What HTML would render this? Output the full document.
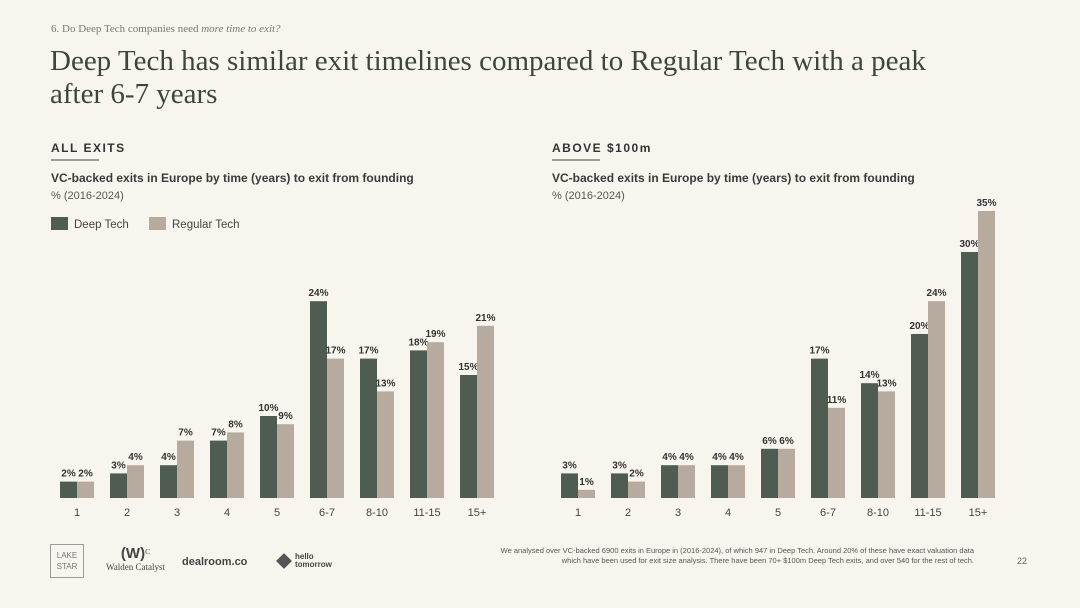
<!DOCTYPE html>
<html><head><meta charset="utf-8">
<style>
body{margin:0;background:#f8f5ef;font-family:"Liberation Sans",sans-serif;}
#wrap{position:relative;width:1080px;height:608px;overflow:hidden;background:#f8f5ef;}
.t{position:absolute;white-space:nowrap;}
</style></head><body>
<div id="wrap">
<div class="t" style="left:51px;top:23px;font:11px 'Liberation Serif',serif;color:#777;">6. Do Deep Tech companies need <i>more time to exit?</i></div>
<div class="t" style="left:50px;top:45px;font:29px/33px 'Liberation Serif',serif;color:#3b473e;">Deep Tech has similar exit timelines compared to Regular Tech with a peak<br>after 6-7 years</div>
<svg id="chart" width="1080" height="608" style="position:absolute;left:0;top:0"></svg>
<div class="t" style="left:500px;top:546px;width:474px;font:7.5px/10px 'Liberation Sans',sans-serif;color:#555;text-align:right;white-space:normal;">We analysed over VC-backed 6900 exits in Europe in (2016-2024), of which 947 in Deep Tech. Around 20% of these have exact valuation data which have been used for exit size analysis. There have been 70+ $100m Deep Tech exits, and over 540 for the rest of tech.</div>
<div class="t" style="left:1017px;top:556px;font:9px sans-serif;color:#666;">22</div>
<div class="t" style="left:50px;top:544px;width:34px;height:34px;border:1px solid #999;font:8px/11px sans-serif;color:#777;text-align:center;padding-top:5px;box-sizing:border-box;">LAKE<br>STAR</div>
<div class="t" style="left:106px;top:545px;font:9px 'Liberation Serif',serif;color:#444;text-align:center;"><span style="font:bold 15px sans-serif">(W)</span><sup>C</sup><br>Walden Catalyst</div>
<div class="t" style="left:182px;top:556px;font:bold 11px sans-serif;color:#444;">dealroom.co</div>
<div class="t" style="left:276px;top:553px;font:bold 8px/8px sans-serif;color:#444;"><span style="display:inline-block;width:16px;height:16px;background:#555;transform:rotate(45deg) scale(.7);vertical-align:middle;margin-right:3px"></span><span style="display:inline-block;vertical-align:middle">hello<br>tomorrow</span></div>
</div>
<script>
const categories=["1","2","3","4","5","6-7","8-10","11-15","15+"];
const allDeep=[2,3,4,7,10,24,17,18,15];
const allRegular=[2,4,7,8,9,17,13,19,21];
const bigDeep=[3,3,4,4,6,17,14,20,30];
const bigRegular=[1,2,4,4,6,11,13,24,35];
const NS="http://www.w3.org/2000/svg";
const svg=document.getElementById('chart');
const DEEP="#4f5c51",REG="#b7aa9e";
function mk(tag,attrs,parent){const e=document.createElementNS(NS,tag);for(const k in attrs)e.setAttribute(k,attrs[k]);(parent||svg).appendChild(e);return e;}
function txt(x,y,s,opts,name){const e=mk('text',Object.assign({x:x,y:y,'font-family':'Liberation Sans, sans-serif'},opts));e.textContent=s;


return e;}
const base=498,pxPer=8.2;
function yScale(v){return base-v*pxPer;}
function drawPanel(x0,title,deep,reg,legend,prefix){
  txt(x0,152,title,{'font-size':12,'font-weight':'bold','letter-spacing':'1.5','fill':'#333'},prefix+'-section-title');
  const ln=mk('line',{x1:x0,x2:x0+48,y1:160,y2:160,stroke:'#444','stroke-width':1});
  
  
  txt(x0,182,'VC-backed exits in Europe by time (years) to exit from founding',{'font-size':12,'font-weight':'bold','fill':'#3a3a3a'},prefix+'-chart-title');
  txt(x0,199,'% (2016-2024)',{'font-size':11,'fill':'#555'},prefix+'-chart-subtitle');
  if(legend){
    const a=mk('rect',{x:x0,y:217,width:17,height:13,fill:DEEP});
    
    
    txt(x0+23,228,'Deep Tech',{'font-size':11.5,'fill':'#444'},'legend-label-deep-tech');
    const b=mk('rect',{x:x0+98,y:217,width:17,height:13,fill:REG});
    
    
    txt(x0+105+16,228,'Regular Tech',{'font-size':11.5,'fill':'#444'},'legend-label-regular-tech');
  }
  const c0=x0+26,step=50,bw=17;
  categories.forEach((c,i)=>{
    const cx=c0+i*step;
    [[deep[i],cx-bw,DEEP,'deep'],[reg[i],cx,REG,'regular']].forEach(([v,x,col,s])=>{
      const r=mk('rect',{x:x,y:yScale(v),width:bw,height:base-yScale(v),fill:col});
      
      
      txt(x+bw/2,yScale(v)-5,v+'%',{'font-size':10,'font-weight':'bold','fill':'#333','text-anchor':'middle'},prefix+'-value-label-'+s+'-'+c);
    });
    txt(cx,516,c,{'font-size':11,'fill':'#444','text-anchor':'middle'},prefix+'-x-tick-'+c);
  });
}
drawPanel(51,'ALL EXITS',allDeep,allRegular,true,'all-exits');
drawPanel(552,'ABOVE $100m',bigDeep,bigRegular,false,'above-100m');
</script>
</body></html>
